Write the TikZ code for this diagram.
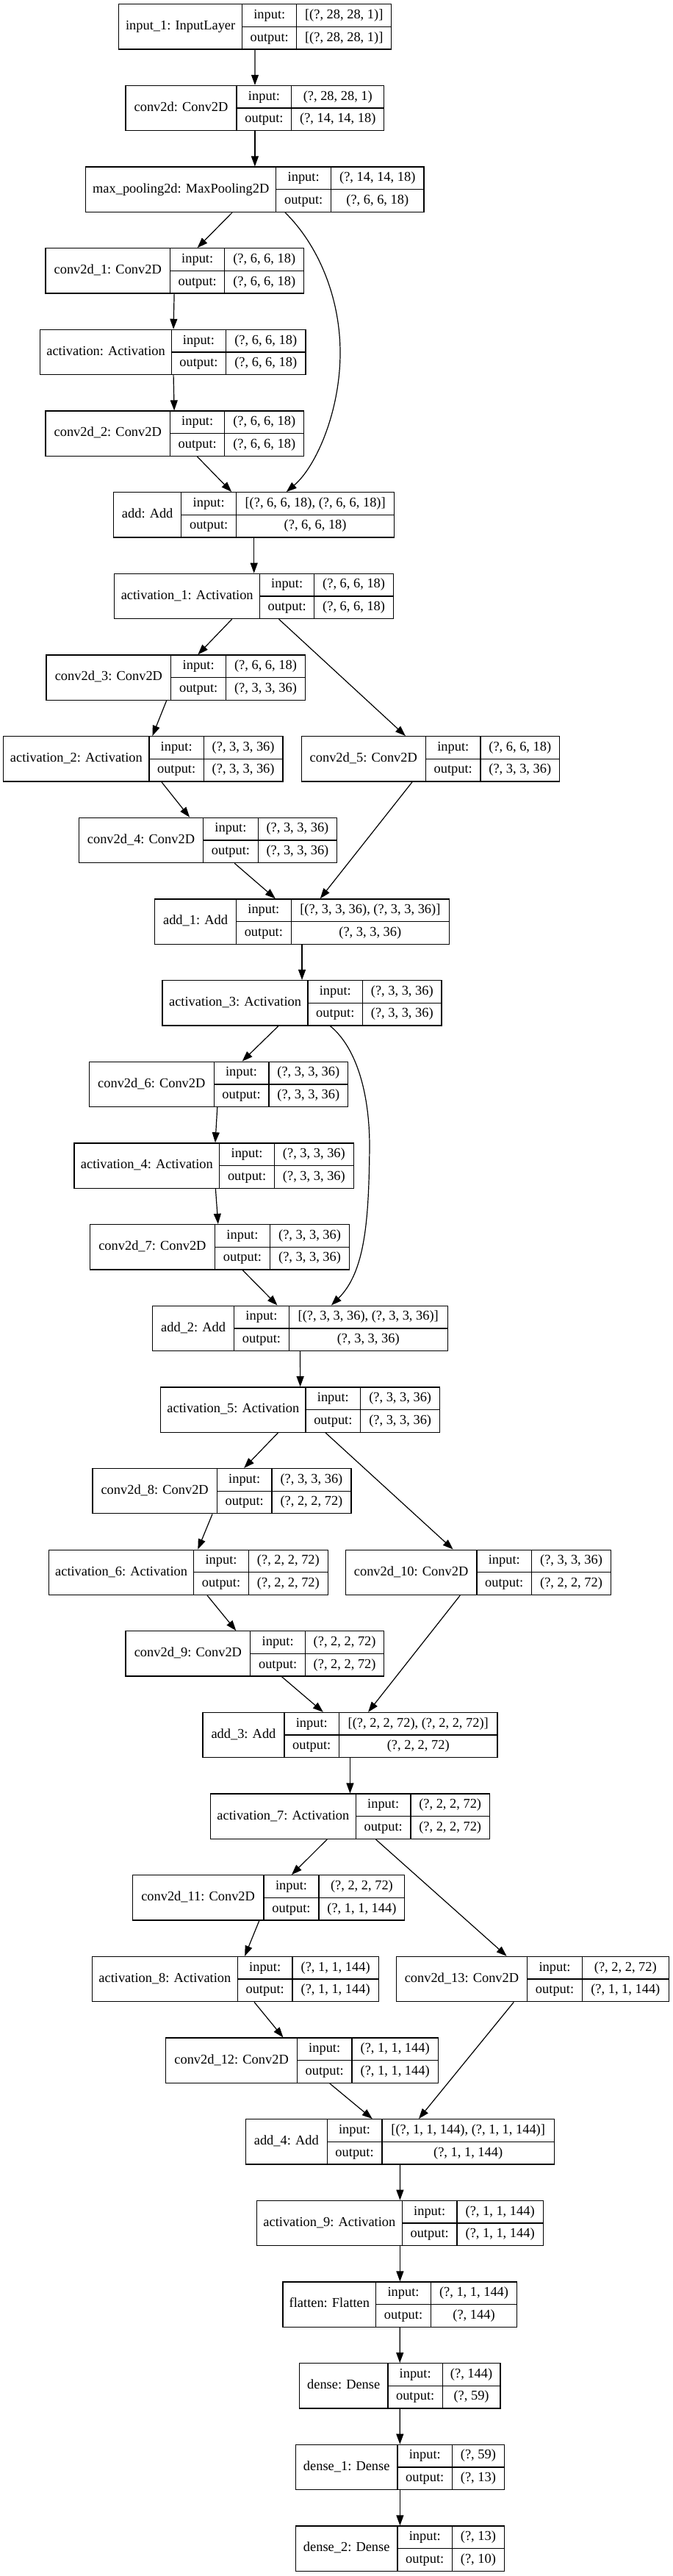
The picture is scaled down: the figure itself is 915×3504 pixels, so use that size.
\documentclass[tikz,border=0pt]{standalone}
\usepackage{fontspec}
\setmainfont{Liberation Serif}
\usetikzlibrary{arrows.meta,calc}
\newcommand\layfont{\fontsize{9.2}{11}\selectfont}
\tikzset{
  box/.style={draw, line width=0.65pt, inner sep=0pt, minimum height=30.65pt},
  cell/.style={line width=0.65pt},
  txt/.style={inner sep=0pt, font=\layfont, text height=6.5pt, text depth=2.2pt},
  arr/.style={line width=0.6pt, -{Triangle[length=7pt,width=5pt]}},
}
% #1 id, #2 row, #3 x0, #4 d1, #5 d2, #6 x3, #7 label, #8 input shape, #9 output shape
\newcommand\layerbox[9]{%
  \pgfmathsetmacro\lbTop{-(5.8+110.65*#2)}%
  \pgfmathsetmacro\lbMid{\lbTop-30.65}%
  \pgfmathsetmacro\lbBot{\lbTop-61.3}%
  \pgfmathsetmacro\lbWid{(#6-#3)*0.5}%
  \pgfmathsetmacro\lbCx{(#3+#6)/2}%
  \node[box, minimum width=\lbWid pt] (#1) at (\lbCx,\lbMid) {};
  \draw[cell] (#4,\lbTop) -- (#4,\lbBot) (#5,\lbTop) -- (#5,\lbBot) (#4,\lbMid) -- (#6,\lbMid);
  \node[txt] (#1-l) at ({(#3+#4)/2},\lbMid) {#7};
  \node[txt] (#1-ik) at ({(#4+#5)/2},{\lbMid+15.325}) {input:};
  \node[txt] (#1-ok) at ({(#4+#5)/2},{\lbMid-15.325}) {output:};
  \node[txt] (#1-iv) at ({(#5+#6)/2},{\lbMid+15.325}) {#8};
  \node[txt] (#1-ov) at ({(#5+#6)/2},{\lbMid-15.325}) {#9};
}
\begin{document}
\begin{tikzpicture}[x=0.5pt,y=0.5pt]
\fill[white] (0,0) rectangle (915,-3504);
\useasboundingbox (0,0) rectangle (915,-3504);
\layerbox{in1}{0}{161.6}{329.7}{403.8}{532.7}{input\_1: InputLayer}{[(?, 28, 28, 1)]}{[(?, 28, 28, 1)]}
\layerbox{c0}{1}{171}{322.1}{396.8}{522.8}{conv2d: Conv2D}{(?, 28, 28, 1)}{(?, 14, 14, 18)}
\layerbox{mp}{2}{116.7}{375.8}{450.5}{577.1}{max\_pooling2d: MaxPooling2D}{(?, 14, 14, 18)}{(?, 6, 6, 18)}
\layerbox{c1}{3}{61.9}{231.6}{305.8}{413.7}{conv2d\_1: Conv2D}{(?, 6, 6, 18)}{(?, 6, 6, 18)}
\layerbox{a0}{4}{54.8}{233.4}{307.5}{416}{activation: Activation}{(?, 6, 6, 18)}{(?, 6, 6, 18)}
\layerbox{c2}{5}{61.9}{231.6}{305.8}{413.7}{conv2d\_2: Conv2D}{(?, 6, 6, 18)}{(?, 6, 6, 18)}
\layerbox{add0}{6}{154.6}{246.8}{321.5}{536.8}{add: Add}{[(?, 6, 6, 18), (?, 6, 6, 18)]}{(?, 6, 6, 18)}
\layerbox{a1}{7}{155.8}{353.6}{427.7}{535.6}{activation\_1: Activation}{(?, 6, 6, 18)}{(?, 6, 6, 18)}
\layerbox{c3}{8}{63}{232.8}{307.5}{415.5}{conv2d\_3: Conv2D}{(?, 6, 6, 18)}{(?, 3, 3, 36)}
\layerbox{a2}{9}{4.7}{203.1}{277.2}{385.1}{activation\_2: Activation}{(?, 3, 3, 36)}{(?, 3, 3, 36)}
\layerbox{c5}{9}{410.2}{579.4}{654.1}{761.5}{conv2d\_5: Conv2D}{(?, 6, 6, 18)}{(?, 3, 3, 36)}
\layerbox{c4}{10}{107.4}{276.6}{351.3}{458.6}{conv2d\_4: Conv2D}{(?, 3, 3, 36)}{(?, 3, 3, 36)}
\layerbox{add1}{11}{210.6}{321.5}{396.2}{611.5}{add\_1: Add}{[(?, 3, 3, 36), (?, 3, 3, 36)]}{(?, 3, 3, 36)}
\layerbox{a3}{12}{221.1}{419}{493.6}{601}{activation\_3: Activation}{(?, 3, 3, 36)}{(?, 3, 3, 36)}
\layerbox{c6}{13}{121.4}{291.2}{365.9}{473.8}{conv2d\_6: Conv2D}{(?, 3, 3, 36)}{(?, 3, 3, 36)}
\layerbox{a4}{14}{100.9}{298.8}{373.4}{481.4}{activation\_4: Activation}{(?, 3, 3, 36)}{(?, 3, 3, 36)}
\layerbox{c7}{15}{122.5}{292.3}{367.6}{475.6}{conv2d\_7: Conv2D}{(?, 3, 3, 36)}{(?, 3, 3, 36)}
\layerbox{add2}{16}{207.7}{318.6}{393.3}{609.2}{add\_2: Add}{[(?, 3, 3, 36), (?, 3, 3, 36)]}{(?, 3, 3, 36)}
\layerbox{a5}{17}{218.8}{416}{490.7}{598.7}{activation\_5: Activation}{(?, 3, 3, 36)}{(?, 3, 3, 36)}
\layerbox{c8}{18}{126}{295.3}{370}{477.9}{conv2d\_8: Conv2D}{(?, 3, 3, 36)}{(?, 2, 2, 72)}
\layerbox{a6}{19}{66.5}{263.7}{338.4}{446.4}{activation\_6: Activation}{(?, 2, 2, 72)}{(?, 2, 2, 72)}
\layerbox{c10}{19}{470.3}{648.9}{723.6}{831.5}{conv2d\_10: Conv2D}{(?, 3, 3, 36)}{(?, 2, 2, 72)}
\layerbox{c9}{20}{171}{340.8}{415.5}{522.8}{conv2d\_9: Conv2D}{(?, 2, 2, 72)}{(?, 2, 2, 72)}
\layerbox{add3}{21}{276}{386.9}{461.6}{676.9}{add\_3: Add}{[(?, 2, 2, 72), (?, 2, 2, 72)]}{(?, 2, 2, 72)}
\layerbox{a7}{22}{286.5}{484.3}{559}{666.4}{activation\_7: Activation}{(?, 2, 2, 72)}{(?, 2, 2, 72)}
\layerbox{c11}{23}{180.3}{358.9}{434.1}{550.8}{conv2d\_11: Conv2D}{(?, 2, 2, 72)}{(?, 1, 1, 144)}
\layerbox{a8}{24}{125.5}{323.3}{398}{515.3}{activation\_8: Activation}{(?, 1, 1, 144)}{(?, 1, 1, 144)}
\layerbox{c13}{24}{539.2}{717.7}{792.4}{910.3}{conv2d\_13: Conv2D}{(?, 2, 2, 72)}{(?, 1, 1, 144)}
\layerbox{c12}{25}{225.8}{404.4}{479}{596.4}{conv2d\_12: Conv2D}{(?, 1, 1, 144)}{(?, 1, 1, 144)}
\layerbox{add4}{26}{334.4}{445.2}{519.9}{754.5}{add\_4: Add}{[(?, 1, 1, 144), (?, 1, 1, 144)]}{(?, 1, 1, 144)}
\layerbox{a9}{27}{349.5}{547.3}{622}{739.3}{activation\_9: Activation}{(?, 1, 1, 144)}{(?, 1, 1, 144)}
\layerbox{fl}{28}{385.1}{511.7}{586.4}{703.7}{flatten: Flatten}{(?, 1, 1, 144)}{(?, 144)}
\layerbox{d0}{29}{407.3}{528.1}{602.2}{681}{dense: Dense}{(?, 144)}{(?, 59)}
\layerbox{d1}{30}{402.6}{540.9}{615.6}{686.2}{dense\_1: Dense}{(?, 59)}{(?, 13)}
\layerbox{d2}{31}{402.6}{540.9}{615.6}{686.2}{dense\_2: Dense}{(?, 13)}{(?, 10)}
% connectors
\foreach \s/\t in {in1/c0, c0/mp, mp/c1, c1/a0, a0/c2, c2/add0, add0/a1, a1/c3, a1/c5,
  c3/a2, a2/c4, c4/add1, c5/add1, add1/a3, a3/c6, c6/a4, a4/c7, c7/add2, add2/a5,
  a5/c8, a5/c10, c8/a6, a6/c9, c9/add3, c10/add3, add3/a7, a7/c11, a7/c13, c11/a8,
  a8/c12, c12/add4, c13/add4, add4/a9, a9/fl, fl/d0, d0/d1, d1/d2}
  \draw[arr] (\s) -- (\t);
\draw[arr] ($(mp.south)+(41.1,0)$) .. controls (430,-330) and (463,-400) .. (463,-480)
  .. controls (463,-560) and (430,-635) .. ($(add0.north)+(44.1,0)$);
\draw[arr] ($(a3.south)+(38.25,0)$) .. controls (482,-1422) and (503,-1480) .. (503,-1560)
  .. controls (502,-1660) and (497,-1730) .. ($(add2.north)+(42.5,0)$);
\end{tikzpicture}
\end{document}
